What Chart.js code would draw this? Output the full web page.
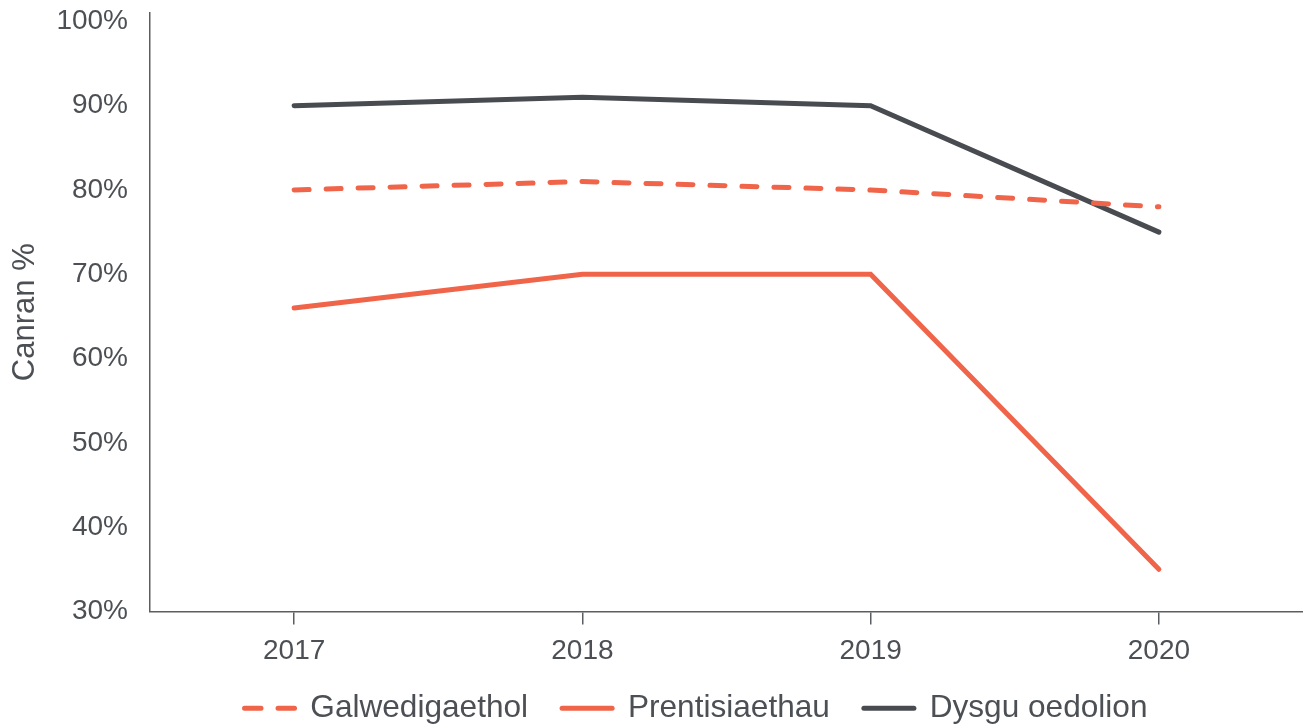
<!DOCTYPE html>
<html>
<head>
<meta charset="utf-8">
<script src="https://cdn.jsdelivr.net/npm/chart.js@4/dist/chart.umd.min.js"></script>
<style>
  body { margin: 0; background: #fff; }
  #wrap { width: 1303px; height: 724px; position: relative; }
</style>
</head>
<body>
<div id="wrap"><canvas id="myChart"></canvas></div>
<script>
const years = ['2017', '2018', '2019', '2020'];
const galwedigaethol = [80, 81, 80, 78];
const prentisiaethau = [66, 70, 70, 35];
const dysguOedolion = [90, 91, 90, 75];
const yTicks = [30, 40, 50, 60, 70, 80, 90, 100];

const orange = '#F0644A';
const dark = '#484C51';
const textColor = '#4c5055';
const axisColor = '#5a5e63';

Chart.defaults.font.family = '"Liberation Sans", Arial, sans-serif';
Chart.defaults.color = textColor;

// the legend in the original sits a bit right of centre and closer to the axis labels
const legendNudge = {
  id: 'legendNudge',
  afterLayout(chart) {
    const lg = chart.legend;
    lg.left += 44.5; lg.right += 44.5;
    lg.top -= 13; lg.bottom -= 13;
  },
};

const ctx = document.getElementById('myChart').getContext('2d');
const myChart = new Chart(ctx, {
  type: 'line',
  data: {
    labels: years,
    datasets: [
      {
        label: 'Galwedigaethol',
        data: galwedigaethol,
        borderColor: orange,
        backgroundColor: orange,
        borderWidth: 5,
        borderDash: [15, 17],
        borderCapStyle: 'round',
        pointRadius: 0,
        tension: 0,
      },
      {
        label: 'Prentisiaethau',
        data: prentisiaethau,
        borderColor: orange,
        backgroundColor: orange,
        borderWidth: 5,
        borderCapStyle: 'round',
        pointRadius: 0,
        tension: 0,
      },
      {
        label: 'Dysgu oedolion',
        data: dysguOedolion,
        borderColor: dark,
        backgroundColor: dark,
        borderWidth: 5,
        borderCapStyle: 'round',
        pointRadius: 0,
        tension: 0,
      },
    ],
  },
  plugins: [legendNudge],
  options: {
    responsive: true,
    maintainAspectRatio: false,
    animation: false,
    layout: { padding: { top: 13, right: 0, left: 0, bottom: -23 } },
    scales: {
      x: {
        offset: true,
        afterFit: (scale) => { scale.height = 60; },
        grid: { drawOnChartArea: false, drawTicks: true, tickLength: 13, color: axisColor, lineWidth: 1.5 },
        border: { display: true, color: axisColor, width: 1.5 },
        ticks: { font: { size: 28 }, padding: 10, color: textColor, maxRotation: 0 },
      },
      y: {
        min: 30,
        max: 101,
        afterBuildTicks: (scale) => {
          scale.ticks = yTicks.map(v => ({ value: v }));
        },
        afterFit: (scale) => { scale.width = 150; },
        grid: { display: false, drawTicks: true, tickLength: 22 },
        border: { display: true, color: axisColor, width: 1.5 },
        ticks: {
          font: { size: 28, lineHeight: 0.9 },
          padding: 0,
          color: textColor,
          callback: (v) => v + '%',
        },
        title: {
          display: true,
          text: 'Canran %',
          font: { size: 31 },
          color: textColor,
          padding: { top: 7, bottom: 12 },
        },
      },
    },
    plugins: {
      legend: {
        position: 'bottom',
        labels: {
          usePointStyle: true,
          pointStyle: 'line',
          pointStyleWidth: 50,
          boxHeight: 31,
          font: { size: 31.6 },
          color: textColor,
          padding: 34,
          generateLabels: (chart) => {
            const items = Chart.defaults.plugins.legend.labels.generateLabels(chart);
            items.forEach(item => {
              item.lineCap = 'round';
              const ds = chart.data.datasets[item.datasetIndex];
              if (ds.borderDash) {
                // the legend line path goes out and back, so use a mirror-symmetric dash
                item.lineDash = [33, 17];
                item.lineDashOffset = 16.5;
              }
            });
            return items;
          },
        },
      },
      tooltip: { enabled: false },
    },
  },
});
</script>
</body>
</html>
